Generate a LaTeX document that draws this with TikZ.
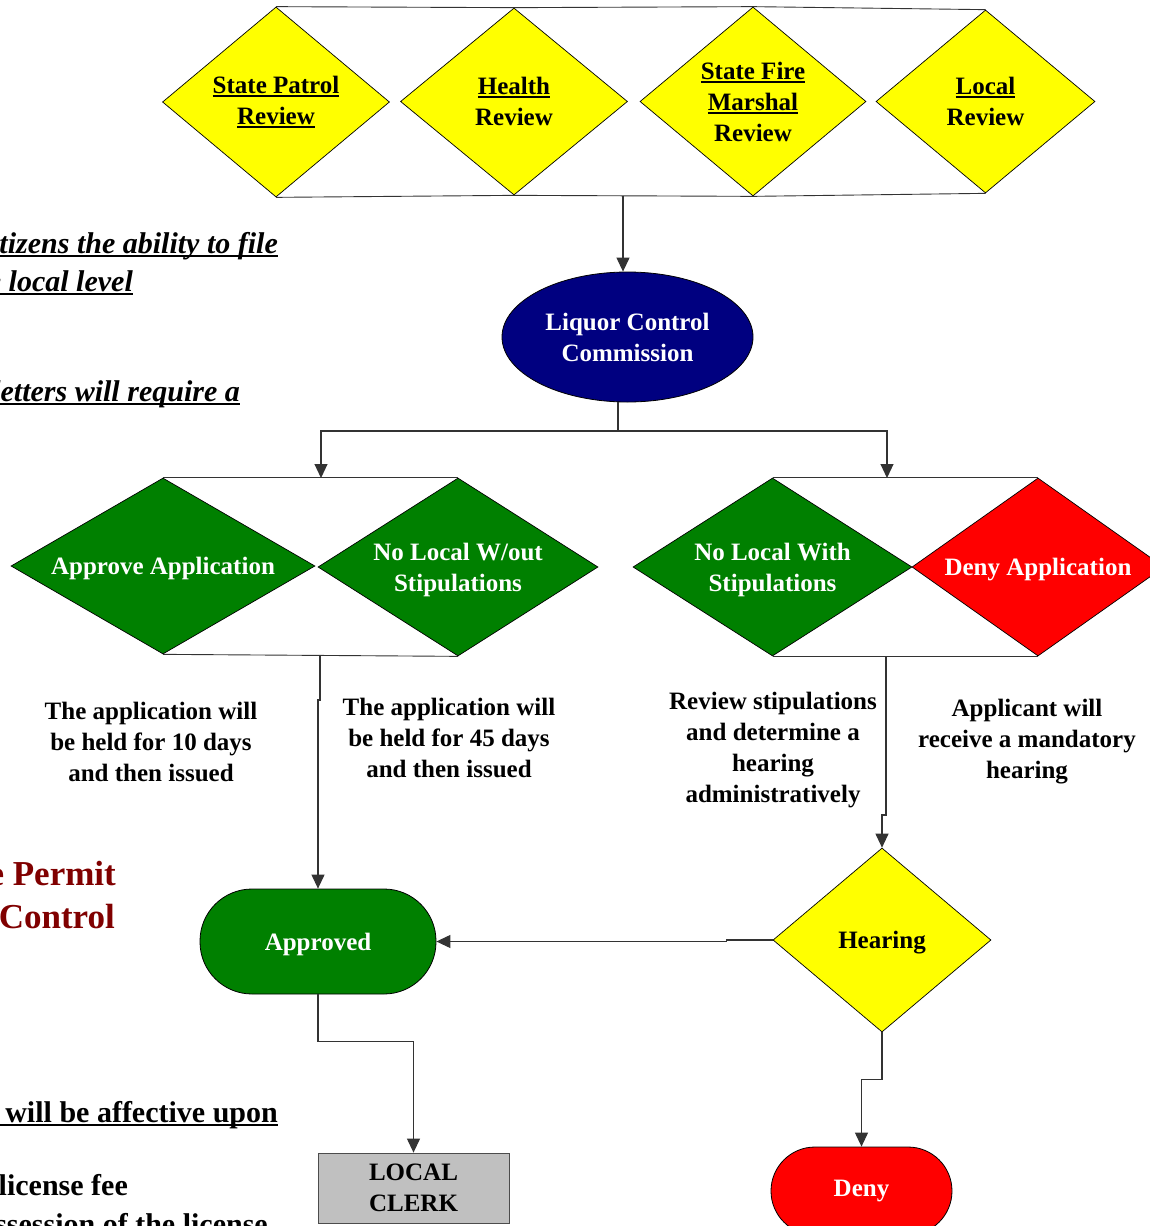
\documentclass[tikz,border=0pt]{standalone}
\usepackage{fontspec}
\setmainfont{Liberation Serif}
\newcommand\myul[1]{\setbox0=\hbox{#1}\rlap{\rule[-0.14em]{\wd0}{0.065em}}\box0}
\newcommand\lowr[1]{\raisebox{-2.5pt}[\height][\depth]{\begin{tabular}{@{}c@{}}#1\end{tabular}}}
\usetikzlibrary{shapes.geometric,arrows.meta}
\definecolor{dgreen}{HTML}{008000}
\definecolor{navy}{HTML}{000080}
\definecolor{bred}{HTML}{FF0000}
\definecolor{byellow}{HTML}{FFFF00}
\definecolor{lgray}{HTML}{C0C0C0}
\definecolor{maroon}{HTML}{800000}
\definecolor{conn}{HTML}{333333}
\begin{document}
\begin{tikzpicture}[x=1pt,y=-1pt,
  lbl/.style={font=\fontsize{25}{31}\selectfont\bfseries, align=center},
  dia/.style={diamond, draw=black, line width=0.7pt, inner sep=0pt, lbl},
  ydia/.style={dia, fill=byellow, text=black},
  gdia/.style={dia, fill=dgreen, text=white},
  rdia/.style={dia, fill=bred, text=white},
  stad/.style={rectangle, draw=black, line width=0.8pt, lbl, text=white},
  note/.style={lbl, text=black},
  side/.style={anchor=base east, inner sep=0pt, font=\fontsize{30}{36}\selectfont\bfseries},
  link/.style={draw=conn, line width=1.1pt},
  arr/.style={link, -{Triangle[length=14pt,width=13pt]}}
]
\useasboundingbox (0,0) rectangle (1150,1226);
\fill[white] (0,0) rectangle (1150,1226);

% left side partial texts
\node[side] (s1) at (278,253) {\itshape\myul{citizens the ability to file}};
\node[side] (s2) at (133,291) {\itshape\myul{at the local level}};
\node[side] (s3) at (240,401) {\itshape\myul{letters will require a}};
\node[side, text=maroon, font=\fontsize{35}{40}\selectfont\bfseries] (s4) at (116,885) {License Permit};
\node[side, text=maroon, font=\fontsize{35}{40}\selectfont\bfseries] (s5) at (115,928) {Liquor Control};
\node[side] (s6) at (278,1122) {\myul{license will be affective upon}};
\node[side] (s7) at (128,1195) {the license fee};
\node[side] (s8) at (268,1234) {possession of the license};

% top review diamonds
\node[ydia, aspect=1.19, minimum width=227pt, minimum height=190pt] (sp) at (276,102) {\myul{State Patrol}\\\myul{Review}};
\node[ydia, aspect=1.21, minimum width=227pt, minimum height=187pt] (hr) at (514,101.5) {\myul{Health}\\Review};
\node[ydia, aspect=1.19, minimum width=226pt, minimum height=189pt] (fm) at (753,101.5) {\myul{State Fire}\\\myul{Marshal}\\Review};
\node[ydia, aspect=1.2, minimum width=219pt, minimum height=183pt] (lr) at (985.5,101.5) {\myul{Local}\\Review};
\draw[link, line width=0.9pt] (sp.north) -- (hr.north) -- (fm.north) -- (lr.north);
\draw[link, line width=0.9pt] (sp.south) -- (hr.south) -- (fm.south) -- (lr.south);

% commission
\node[ellipse, draw=black, line width=0.8pt, fill=navy, lbl, text=white, minimum width=251pt, minimum height=130pt, inner sep=0pt] (lcc) at (627.5,337) {Liquor Control\\Commission};
\coordinate (j1) at (623,195.5);
\draw[arr] (j1) -- (j1 |- lcc.north);
\coordinate (sj) at (618,431);
\coordinate (tl) at (321,478);
\coordinate (tr) at (887,478);
\draw[link] (lcc.south -| sj) -- (sj);
\draw[arr] (sj) -| (tl);
\draw[arr] (sj) -| (tr);

% decision diamonds
\node[gdia, aspect=1.73, minimum width=304pt, minimum height=176pt] (aa) at (163,566) {\lowr{Approve Application}};
\node[gdia, aspect=1.57, minimum width=280pt, minimum height=178pt] (nw) at (458,567) {\lowr{No Local W/out\\Stipulations}};
\node[gdia, aspect=1.57, minimum width=279pt, minimum height=178pt] (nl) at (772.5,567) {\lowr{No Local With\\Stipulations}};
\node[rdia, aspect=1.42, minimum width=252pt, minimum height=178pt] (da) at (1038,567) {\lowr{Deny Application}};
\draw[link, line width=0.9pt] (aa.north) -- (nw.north);
\draw[link, line width=0.9pt] (aa.south) -- (nw.south);
\draw[link, line width=0.9pt] (nl.north) -- (da.north);
\draw[link, line width=0.9pt] (nl.south) -- (da.south);

% notes
\node[note] (n1) at (151,742) {The application will\\be held for 10 days\\and then issued};
\node[note] (n2) at (449,738) {The application will\\be held for 45 days\\and then issued};
\node[note] (n3) at (773,750) {Review stipulations\\and determine a\\hearing\\administratively};
\node[note] (n4) at (1027,742) {Applicant will\\receive a mandatory\\hearing};

% lower nodes
\node[stad, fill=dgreen, minimum width=236pt, minimum height=105pt, rounded corners=52pt] (ap) at (318,941.5) {\lowr{Approved}};
\node[ydia, aspect=1.18, minimum width=218pt, minimum height=184pt] (hear) at (882,940) {\lowr{Hearing}};
\node[stad, fill=bred, minimum width=181pt, minimum height=88pt, rounded corners=44pt] (dn) at (861.5,1191) {Deny};
\node[rectangle, draw=black!70, line width=0.8pt, fill=lgray, lbl, text=black, minimum width=191pt, minimum height=70pt] (clerk) at (413.5,1188) {LOCAL\\CLERK};

\coordinate (b1) at (320,655);
\coordinate (b2) at (886,656);
\draw[arr] (b1) -- ++(0,45) -| (ap.north);
\draw[arr] (b2) -- ++(0,159) -| (hear.north);
\draw[arr] (hear.west) -- ++(-46,0) |- (ap.east);
\draw[arr] (hear.south) -- ++(0,47) -| (dn.north);
\draw[arr] (ap.south) -- ++(0,47) -| (clerk.north);
\end{tikzpicture}
\end{document}
